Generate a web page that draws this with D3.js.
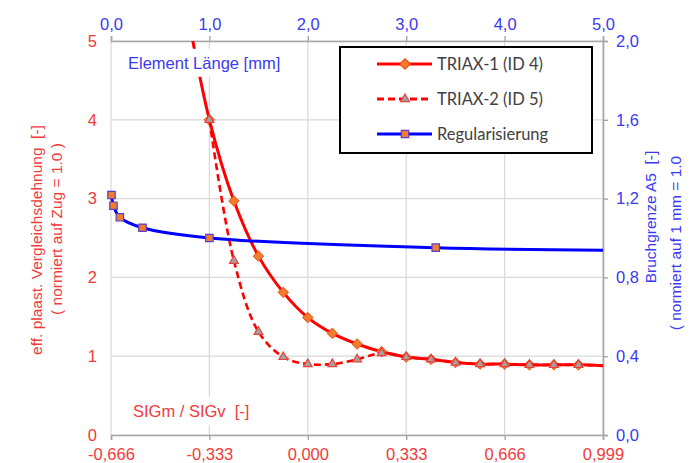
<!DOCTYPE html>
<html>
<head>
<meta charset="utf-8">
<script src="https://cdn.jsdelivr.net/npm/d3@7"></script>
<style>
  body { margin: 0; background: #fff; }
  svg { display: block; }
  text { white-space: pre; }
  .tick-lbl { font-family: "Liberation Sans", Arial, sans-serif; font-size: 16.5px; }
  .axis-title { font-family: "Liberation Sans", Arial, sans-serif; font-size: 15.5px; }
  .legend-lbl { font-family: Lato, "Open Sans", sans-serif; font-size: 16.5px; fill: #404040; }
</style>
</head>
<body>
<div id="chart-area"></div>
<script>
// plot box
var margin = { left: 111, right: 92, top: 41, bottom: 28 };
var width = 695 - margin.left - margin.right,
    height = 463 - margin.top - margin.bottom;

var redTxt = '#f33a3a', blueTxt = '#3a3af0';

// --- data ---
// bottom axis: SIGm / SIGv, left axis: normalised plastic strain
var sigRatio = [-0.416, -0.333, -0.25, -0.167, -0.083, 0, 0.083, 0.167, 0.25, 0.333, 0.417, 0.5, 0.583, 0.666, 0.75, 0.833, 0.916, 0.999];
var triax1   = [5.55, 4.0, 2.97, 2.27, 1.81, 1.49, 1.29, 1.155, 1.057, 0.99, 0.96, 0.92, 0.90, 0.90, 0.89, 0.89, 0.89, 0.88];
var triax2   = [null, 4.0, 2.21, 1.31, 0.99, 0.90, 0.90, 0.96, 1.04, 0.99, 0.96, 0.92, 0.90, 0.90, 0.89, 0.89, 0.89, 0.88];
// top axis: element length [mm], right axis: A5 normalised
var elemLen  = [0.005, 0.025, 0.09, 0.32, 1.0, 3.3, 5.0];
var a5       = [1.218, 1.164, 1.105, 1.052, 1.0, 0.951, 0.938];

var bottomTicks = [-0.666, -0.333, 0, 0.333, 0.666, 0.999];
var leftTicks   = [0, 1, 2, 3, 4, 5];
var topTicks    = [0, 1, 2, 3, 4, 5];
var rightTicks  = [0, 0.4, 0.8, 1.2, 1.6, 2.0];
var legendNames = ['TRIAX-1 (ID 4)', 'TRIAX-2 (ID 5)', 'Regularisierung'];

var svg = d3.select('#chart-area').append('svg')
    .attr('width', 695).attr('height', 463);

var g = svg.append('g')
    .attr('transform', 'translate(' + margin.left + ',' + margin.top + ')');

svg.append('defs').append('clipPath').attr('id', 'plot-clip')
  .append('rect').attr('width', width).attr('height', height);

// scales
var xScale  = d3.scaleLinear().domain([-0.666, 0.999]).range([0, width]);
var yScale  = d3.scaleLinear().domain([0, 5]).range([height, 0]);
var x2Scale = d3.scaleLinear().domain([0, 5]).range([0, width]);
var y2Scale = d3.scaleLinear().domain([0, 2]).range([height, 0]);

// gridlines
g.append('g').selectAll('line').data(leftTicks).enter().append('line')
    .attr('x1', 0).attr('x2', width)
    .attr('y1', function(d) { return yScale(d); }).attr('y2', function(d) { return yScale(d); })
    .attr('stroke', '#d9d9d9').attr('stroke-width', 1.2);
g.append('g').selectAll('line').data(bottomTicks).enter().append('line')
    .attr('y1', 0).attr('y2', height)
    .attr('x1', function(d) { return xScale(d); }).attr('x2', function(d) { return xScale(d); })
    .attr('stroke', '#d9d9d9').attr('stroke-width', 1.2);

// axes - german decimal comma, plain hyphen minus
var comma = function(f) { return function(d) { return d3.format(f)(d).replace('.', ',').replace('\u2212', '-'); }; };

var xAxis = d3.axisBottom(xScale).tickValues(bottomTicks).tickSize(5).tickFormat(comma('.3f'));
var xAxisGroup = g.append('g').attr('transform', 'translate(0,' + height + ')').call(xAxis);
var x2Axis = d3.axisTop(x2Scale).tickValues(topTicks).tickSize(5).tickFormat(comma('.1f'));
var x2AxisGroup = g.append('g').call(x2Axis);
var yAxis = d3.axisLeft(yScale).tickValues(leftTicks).tickSize(0).tickPadding(14).tickFormat(d3.format('d'));
var yAxisGroup = g.append('g').call(yAxis);
var y2Axis = d3.axisRight(y2Scale).tickValues(rightTicks).tickSize(5).tickPadding(8).tickFormat(comma('.1f'));
var y2AxisGroup = g.append('g').attr('transform', 'translate(' + width + ',0)').call(y2Axis);

[xAxisGroup, x2AxisGroup, y2AxisGroup].forEach(function(ax) {
    ax.select('.domain').attr('stroke', '#a6a6a6').attr('stroke-width', 1.6);
    ax.selectAll('.tick line').attr('stroke', '#a6a6a6').attr('stroke-width', 1.4);
});
yAxisGroup.select('.domain').remove();

xAxisGroup.selectAll('text').attr('class', 'tick-lbl').attr('fill', redTxt).attr('dy', '1.0em');
yAxisGroup.selectAll('text').attr('class', 'tick-lbl').attr('fill', redTxt);
x2AxisGroup.selectAll('text').attr('class', 'tick-lbl').attr('fill', blueTxt).attr('dy', '-0.2em');
y2AxisGroup.selectAll('text').attr('class', 'tick-lbl').attr('fill', blueTxt);

// in-plot labels with white background
function boxLabel(text, x, y, color) {
    var lg = g.append('g');
    var t = lg.append('text').attr('x', x).attr('y', y).attr('dy', '0.35em')
        .attr('class', 'tick-lbl').attr('fill', color).text(text);
    var bb = t.node().getBBox();
    lg.insert('rect', 'text').attr('x', bb.x - 4).attr('y', bb.y - 5)
        .attr('width', bb.width + 8).attr('height', bb.height + 10).attr('fill', '#fff');
}

// series
var line1 = d3.line()
    .x(function(d) { return xScale(d[0]); }).y(function(d) { return yScale(d[1]); })
    .curve(d3.curveCatmullRom.alpha(0.5));
var line2 = d3.line()
    .x(function(d) { return x2Scale(d[0]); }).y(function(d) { return y2Scale(d[1]); })
    .curve(d3.curveCatmullRom.alpha(0.5));

var t1 = sigRatio.map(function(x, i) { return [x, triax1[i]]; });
var t2 = sigRatio.map(function(x, i) { return [x, triax2[i]]; }).filter(function(d) { return d[1] !== null; });
var reg = elemLen.map(function(x, i) { return [x, a5[i]]; });

var plot = g.append('g').attr('clip-path', 'url(#plot-clip)');

var diamond = d3.symbol().type(d3.symbolDiamond2).size(70);
var triangle = d3.symbol().type(d3.symbolTriangle2).size(55);
var square = d3.symbol().type(d3.symbolSquare2).size(70);

// TRIAX-1
plot.append('path').attr('d', line1(t1)).attr('fill', 'none').attr('stroke', '#ff0000').attr('stroke-width', 3);
plot.selectAll('.m1').data(t1.slice(0, -1)).enter().append('path')
    .attr('transform', function(d) { return 'translate(' + xScale(d[0]) + ',' + yScale(d[1]) + ')'; })
    .attr('d', diamond).attr('fill', '#f07c2c').attr('stroke', '#f04a1a').attr('stroke-width', 1);

// TRIAX-2
plot.append('path').attr('d', line1(t2)).attr('fill', 'none').attr('stroke', '#ff0000')
    .attr('stroke-width', 2.6).attr('stroke-dasharray', '7,4');
plot.selectAll('.m2').data(t2.slice(0, -1)).enter().append('path')
    .attr('transform', function(d) { return 'translate(' + xScale(d[0]) + ',' + yScale(d[1]) + ')'; })
    .attr('d', triangle).attr('fill', '#a6a0a0').attr('stroke', '#e8403a').attr('stroke-width', 1.2);

boxLabel('Element Länge [mm]', 17, 22, blueTxt);
boxLabel('SIGm / SIGv  [-]', 22, height - 24, redTxt);

// Regularisierung
g.append('path').attr('d', line2(reg)).attr('fill', 'none').attr('stroke', '#0000ff').attr('stroke-width', 3);
g.selectAll('.m3').data(reg.slice(0, -1)).enter().append('path')
    .attr('transform', function(d) { return 'translate(' + x2Scale(d[0]) + ',' + y2Scale(d[1]) + ')'; })
    .attr('d', square).attr('fill', '#f07c2c').attr('stroke', '#5a3cd0').attr('stroke-width', 1.2);

// axis titles
svg.append('text').attr('class', 'axis-title').attr('fill', redTxt).attr('text-anchor', 'middle')
    .attr('transform', 'translate(42,240) rotate(-90)').text('eff. plaast. Vergleichsdehnung  [-]');
svg.append('text').attr('class', 'axis-title').attr('fill', redTxt).attr('text-anchor', 'middle')
    .attr('transform', 'translate(62,229) rotate(-90)').text('( normiert auf Zug = 1.0 )');
svg.append('text').attr('class', 'axis-title').attr('fill', blueTxt).attr('text-anchor', 'middle')
    .attr('transform', 'translate(656,217) rotate(-90)').text('Bruchgrenze A5  [-]');
svg.append('text').attr('class', 'axis-title').attr('fill', blueTxt).attr('text-anchor', 'middle')
    .attr('transform', 'translate(681,243) rotate(-90)').text('( normiert auf 1 mm = 1.0');

// legend
var legend = svg.append('g').attr('transform', 'translate(340,47)');
legend.append('rect').attr('width', 252).attr('height', 106)
    .attr('fill', '#fff').attr('stroke', '#000').attr('stroke-width', 2);

var legendStyles = [
    { color: '#ff0000', dash: null, sym: diamond, fill: '#f07c2c', stroke: '#f04a1a' },
    { color: '#ff0000', dash: '7,4', sym: triangle, fill: '#a6a0a0', stroke: '#e8403a' },
    { color: '#0000ff', dash: null, sym: square, fill: '#f07c2c', stroke: '#5a3cd0' }
];

legendNames.forEach(function(name, i) {
    var s = legendStyles[i];
    var row = legend.append('g').attr('transform', 'translate(0,' + (17 + i * 35) + ')');
    row.append('line').attr('x1', 37).attr('x2', 92).attr('stroke', s.color).attr('stroke-width', 3)
        .attr('stroke-dasharray', s.dash);
    row.append('path').attr('transform', 'translate(65,0)').attr('d', s.sym)
        .attr('fill', s.fill).attr('stroke', s.stroke).attr('stroke-width', 1.2);
    row.append('text').attr('class', 'legend-lbl').attr('x', 97).attr('dy', '0.35em').text(name);
});
</script>
</body>
</html>
